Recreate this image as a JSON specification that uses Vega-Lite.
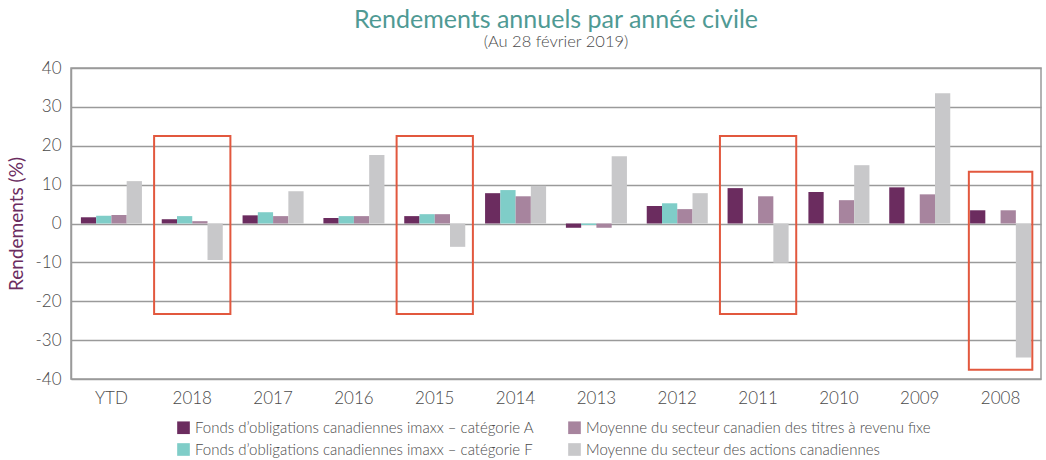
{
  "$schema": "https://vega.github.io/schema/vega-lite/v6.json",
  "width": 970,
  "height": 311,
  "autosize": "none",
  "padding": {"left": 71, "top": 68, "right": 5, "bottom": 81},
  "background": "white",
  "config": {
    "font": "Lato",
    "view": {"stroke": "#9a9a9a", "strokeWidth": 1.5},
    "axisY": {
      "values": [-40, -30, -20, -10, 0, 10, 20, 30, 40],
      "labelOverlap": false,
      "labelExpr": "replace(datum.label, '−', '-')",
      "labelFontSize": 17,
      "labelFontWeight": 300,
      "labelColor": "#4a4a4a",
      "labelPadding": 10,
      "ticks": false,
      "domain": true,
      "domainColor": "#9a9a9a",
      "domainWidth": 1.5,
      "gridColor": "#9a9a9a",
      "gridWidth": 1.5
    }
  },
  "title": {
    "text": "Rendements annuels par année civile",
    "subtitle": "(Au 28 février 2019)",
    "anchor": "middle",
    "fontSize": 25,
    "fontWeight": "normal",
    "color": "#4f9a94",
    "subtitleFontSize": 16.5,
    "subtitleFontWeight": 300,
    "subtitleColor": "#4a4a4a",
    "subtitlePadding": 1,
    "offset": 9
  },
  "datasets": {
    "returns": [
      {"year": "YTD", "series": "Fonds d’obligations canadiennes imaxx  – catégorie A", "value": 1.6},
      {"year": "YTD", "series": "Fonds d’obligations canadiennes imaxx – catégorie F", "value": 2.0},
      {"year": "YTD", "series": "Moyenne du secteur canadien des titres à revenu fixe", "value": 2.2},
      {"year": "YTD", "series": "Moyenne du secteur des actions canadiennes", "value": 10.9},
      {"year": "2018", "series": "Fonds d’obligations canadiennes imaxx  – catégorie A", "value": 1.1},
      {"year": "2018", "series": "Fonds d’obligations canadiennes imaxx – catégorie F", "value": 1.9},
      {"year": "2018", "series": "Moyenne du secteur canadien des titres à revenu fixe", "value": 0.6},
      {"year": "2018", "series": "Moyenne du secteur des actions canadiennes", "value": -9.4},
      {"year": "2017", "series": "Fonds d’obligations canadiennes imaxx  – catégorie A", "value": 2.1},
      {"year": "2017", "series": "Fonds d’obligations canadiennes imaxx – catégorie F", "value": 2.9},
      {"year": "2017", "series": "Moyenne du secteur canadien des titres à revenu fixe", "value": 1.9},
      {"year": "2017", "series": "Moyenne du secteur des actions canadiennes", "value": 8.3},
      {"year": "2016", "series": "Fonds d’obligations canadiennes imaxx  – catégorie A", "value": 1.4},
      {"year": "2016", "series": "Fonds d’obligations canadiennes imaxx – catégorie F", "value": 1.9},
      {"year": "2016", "series": "Moyenne du secteur canadien des titres à revenu fixe", "value": 1.9},
      {"year": "2016", "series": "Moyenne du secteur des actions canadiennes", "value": 17.6},
      {"year": "2015", "series": "Fonds d’obligations canadiennes imaxx  – catégorie A", "value": 1.9},
      {"year": "2015", "series": "Fonds d’obligations canadiennes imaxx – catégorie F", "value": 2.4},
      {"year": "2015", "series": "Moyenne du secteur canadien des titres à revenu fixe", "value": 2.4},
      {"year": "2015", "series": "Moyenne du secteur des actions canadiennes", "value": -6.0},
      {"year": "2014", "series": "Fonds d’obligations canadiennes imaxx  – catégorie A", "value": 7.8},
      {"year": "2014", "series": "Fonds d’obligations canadiennes imaxx – catégorie F", "value": 8.6},
      {"year": "2014", "series": "Moyenne du secteur canadien des titres à revenu fixe", "value": 7.0},
      {"year": "2014", "series": "Moyenne du secteur des actions canadiennes", "value": 9.7},
      {"year": "2013", "series": "Fonds d’obligations canadiennes imaxx  – catégorie A", "value": -1.1},
      {"year": "2013", "series": "Fonds d’obligations canadiennes imaxx – catégorie F", "value": -0.4},
      {"year": "2013", "series": "Moyenne du secteur canadien des titres à revenu fixe", "value": -1.1},
      {"year": "2013", "series": "Moyenne du secteur des actions canadiennes", "value": 17.3},
      {"year": "2012", "series": "Fonds d’obligations canadiennes imaxx  – catégorie A", "value": 4.5},
      {"year": "2012", "series": "Fonds d’obligations canadiennes imaxx – catégorie F", "value": 5.2},
      {"year": "2012", "series": "Moyenne du secteur canadien des titres à revenu fixe", "value": 3.7},
      {"year": "2012", "series": "Moyenne du secteur des actions canadiennes", "value": 7.8},
      {"year": "2011", "series": "Fonds d’obligations canadiennes imaxx  – catégorie A", "value": 9.1},
      {"year": "2011", "series": "Moyenne du secteur canadien des titres à revenu fixe", "value": 7.0},
      {"year": "2011", "series": "Moyenne du secteur des actions canadiennes", "value": -10.1},
      {"year": "2010", "series": "Fonds d’obligations canadiennes imaxx  – catégorie A", "value": 8.1},
      {"year": "2010", "series": "Moyenne du secteur canadien des titres à revenu fixe", "value": 6.0},
      {"year": "2010", "series": "Moyenne du secteur des actions canadiennes", "value": 15.0},
      {"year": "2009", "series": "Fonds d’obligations canadiennes imaxx  – catégorie A", "value": 9.3},
      {"year": "2009", "series": "Moyenne du secteur canadien des titres à revenu fixe", "value": 7.5},
      {"year": "2009", "series": "Moyenne du secteur des actions canadiennes", "value": 33.5},
      {"year": "2008", "series": "Fonds d’obligations canadiennes imaxx  – catégorie A", "value": 3.4},
      {"year": "2008", "series": "Moyenne du secteur canadien des titres à revenu fixe", "value": 3.4},
      {"year": "2008", "series": "Moyenne du secteur des actions canadiennes", "value": -34.5}
    ],
    "boxes": [
      {"year": "2018", "top": 22.5, "bottom": -23.3},
      {"year": "2015", "top": 22.5, "bottom": -23.3},
      {"year": "2011", "top": 22.5, "bottom": -23.3}
    ],
    "box2008": [
      {"year": "2008", "top": 13.3, "bottom": -37.6}
    ]
  },
  "layer": [
    {
      "data": {"name": "returns"},
      "mark": {"type": "bar"},
      "encoding": {
        "x": {
          "field": "year",
          "type": "nominal",
          "sort": ["YTD", "2018", "2017", "2016", "2015", "2014", "2013", "2012", "2011", "2010", "2009", "2008"],
          "scale": {"paddingInner": 0.245, "paddingOuter": 0.1225},
          "axis": {
            "title": null,
            "labelAngle": 0,
            "labelFontSize": 17,
            "labelFontWeight": 300,
            "labelColor": "#4a4a4a",
            "ticks": false,
            "domain": false,
            "labelPadding": 11
          }
        },
        "xOffset": {
          "field": "series",
          "type": "nominal",
          "sort": [
            "Fonds d’obligations canadiennes imaxx  – catégorie A",
            "Fonds d’obligations canadiennes imaxx – catégorie F",
            "Moyenne du secteur canadien des titres à revenu fixe",
            "Moyenne du secteur des actions canadiennes"
          ],
          "scale": {"paddingInner": 0, "paddingOuter": 0}
        },
        "y": {
          "field": "value",
          "type": "quantitative",
          "scale": {"domain": [-40, 40], "nice": false},
          "axis": {
            "title": "Rendements (%)",
            "titleFontSize": 19,
            "titleFontWeight": "normal",
            "titleColor": "#6b2c5f",
            "titlePadding": 8
          }
        },
        "color": {
          "field": "series",
          "type": "nominal",
          "scale": {
            "domain": [
              "Fonds d’obligations canadiennes imaxx  – catégorie A",
              "Fonds d’obligations canadiennes imaxx – catégorie F",
              "Moyenne du secteur canadien des titres à revenu fixe",
              "Moyenne du secteur des actions canadiennes"
            ],
            "range": ["#6b2c5f", "#7fcdc8", "#a7849e", "#c8c8ca"]
          },
          "legend": {
            "title": null,
            "orient": "none",
            "direction": "vertical",
            "legendX": 105,
            "legendY": 352,
            "columns": 2,
            "columnPadding": 28,
            "rowPadding": 6,
            "symbolType": "square",
            "symbolSize": 160,
            "symbolStrokeWidth": 0,
            "labelFontSize": 15,
            "labelFontWeight": 300,
            "labelColor": "#4a4a4a",
            "labelLimit": 500
          }
        }
      }
    },
    {
      "data": {"name": "boxes"},
      "mark": {"type": "bar", "fill": null, "fillOpacity": 0, "stroke": "#e2583e", "strokeWidth": 2, "width": {"band": 1.25}},
      "encoding": {
        "x": {"field": "year", "type": "nominal", "sort": ["YTD", "2018", "2017", "2016", "2015", "2014", "2013", "2012", "2011", "2010", "2009", "2008"]},
        "y": {"field": "top", "type": "quantitative"},
        "y2": {"field": "bottom"}
      }
    },
    {
      "data": {"name": "box2008"},
      "mark": {"type": "bar", "fill": null, "fillOpacity": 0, "stroke": "#e2583e", "strokeWidth": 2, "width": {"band": 1.04}},
      "encoding": {
        "x": {"field": "year", "type": "nominal", "sort": ["YTD", "2018", "2017", "2016", "2015", "2014", "2013", "2012", "2011", "2010", "2009", "2008"]},
        "y": {"field": "top", "type": "quantitative"},
        "y2": {"field": "bottom"}
      }
    }
  ]
}
